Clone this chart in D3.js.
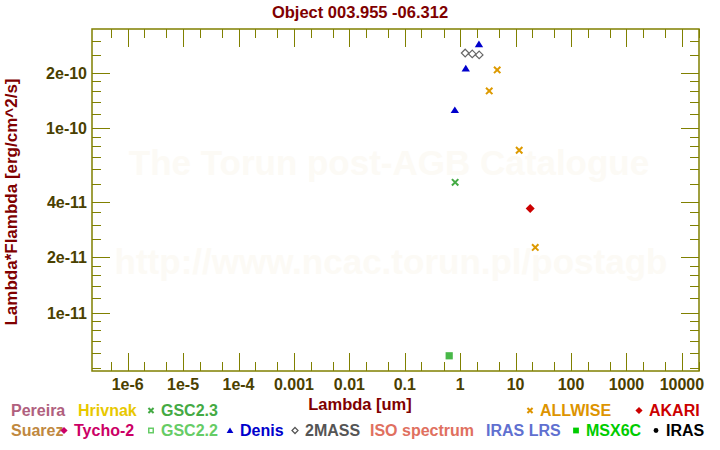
<!DOCTYPE html>
<html><head><meta charset="utf-8">
<script src="https://cdn.jsdelivr.net/npm/d3@7"></script>
<style>html,body{margin:0;padding:0;background:#fff;}svg{display:block;font-family:"Liberation Sans",Arial,sans-serif;font-weight:bold;}</style>
</head><body>
<script>
// ---- data ----
const denisLam = [0.80, 1.26, 2.18];
const denisFlux = [1.26e-10, 2.12e-10, 2.87e-10];
const twomassLam = [1.23, 1.65, 2.20];
const twomassFlux = [2.57e-10, 2.54e-10, 2.51e-10];
const allwiseLam = [3.34, 4.65, 11.6, 22.6];
const allwiseFlux = [1.60e-10, 2.08e-10, 7.62e-11, 2.26e-11];
const gsc23Lam = [0.81];
const gsc23Flux = [5.10e-11];
const gsc22Lam = [0.633];
const gsc22Flux = [5.83e-12];
const akariLam = [18.3];
const akariFlux = [3.68e-11];

const xTickValues = [1e-6, 1e-5, 1e-4, 1e-3, 1e-2, 1e-1, 1, 10, 100, 1000, 10000];
const xTickLabels = ["1e-6", "1e-5", "1e-4", "0.001", "0.01", "0.1", "1", "10", "100", "1000", "10000"];
const yTickValues = [1e-11, 2e-11, 4e-11, 1e-10, 2e-10];
const yTickLabels = ["1e-11", "2e-11", "4e-11", "1e-10", "2e-10"];
const xMinorMantissas = [2, 5];
const yMinorMantissas = [1.2, 1.4, 1.6, 1.8, 2.5, 3, 3.5, 5, 6, 7, 8, 9];

const titleText = "Object 003.955 -06.312";
const xAxisTitle = "Lambda [um]";
const yAxisTitle = "Lambda*Flambda [erg/cm^2/s]";
const watermark1 = "The Torun post-AGB Catalogue";
const watermark2 = "http://www.ncac.torun.pl/postagb";

const legendNames = ["Pereira", "Hrivnak", "GSC2.3", "ALLWISE", "AKARI",
  "Suarez", "Tycho-2", "GSC2.2", "Denis", "2MASS", "ISO spectrum", "IRAS LRS", "MSX6C", "IRAS"];
const legendColors = ["#b0607e", "#e8c800", "#44aa44", "#dd9400", "#cc0000",
  "#c08840", "#cc0066", "#66cc66", "#0000cc", "#555555", "#e07060", "#6070d0", "#00cc00", "#000000"];
const legendMarkers = [null, null, "x", "x", "diamond",
  null, "diamond", "opensquare", "triangle", "opendiamond", null, null, "square", "circle"];

// ---- layout ----
const W = 720, H = 450;
const plot = {left: 92, right: 699, top: 29, bottom: 371};
const legendLayout = [
  {x: 11, row: 0}, {x: 78, row: 0}, {x: 161, row: 0}, {x: 540, row: 0}, {x: 649, row: 0},
  {x: 11, row: 1}, {x: 74, row: 1}, {x: 161, row: 1}, {x: 240, row: 1}, {x: 305, row: 1},
  {x: 370, row: 1}, {x: 486, row: 1}, {x: 586, row: 1}, {x: 666, row: 1}
];
const rowBase = [416, 436];

const svg = d3.select("body").append("svg").attr("width", W).attr("height", H);
svg.append("rect").attr("width", W).attr("height", H).attr("fill", "#fff");

const x = d3.scaleLog().domain([Math.pow(10, -6.6435), Math.pow(10, 4.3087)]).range([plot.left, plot.right]);
const y = d3.scaleLog().domain([4.82e-12, 3.47e-10]).range([plot.bottom, plot.top]);

// watermark
svg.append("text").attr("x", 389).attr("y", 175).attr("text-anchor", "middle")
  .attr("font-size", 35).attr("fill", "#fcfaf5").text(watermark1);
svg.append("text").attr("x", 391).attr("y", 274).attr("text-anchor", "middle")
  .attr("font-size", 35).attr("fill", "#fcfaf5").text(watermark2);

const axisColor = "#808000";
const labelColor = "#4a4000";

// frame
svg.append("rect").attr("x", plot.left).attr("y", plot.top)
  .attr("width", plot.right - plot.left).attr("height", plot.bottom - plot.top)
  .attr("fill", "none").attr("stroke", axisColor).attr("stroke-width", 1.5);

// minor ticks
function minorTicks(scale, mantissas) {
  const [d0, d1] = scale.domain();
  const out = [];
  for (let e = Math.floor(Math.log10(d0)) - 1; e <= Math.ceil(Math.log10(d1)); e++) {
    mantissas.forEach(m => { const v = m * Math.pow(10, e); if (v > d0 && v < d1) out.push(v); });
  }
  return out;
}
const majorLen = 18, minorLen = 9;
const tickG = svg.append("g").attr("stroke", axisColor).attr("stroke-width", 1);
const xMin = minorTicks(x, xMinorMantissas);
const xMaj = xTickValues.filter(v => v >= x.domain()[0] && v <= x.domain()[1]);
[[xMaj, majorLen], [xMin, minorLen]].forEach(([vals, len]) => {
  vals.forEach(v => {
    const px = Math.round(x(v)) + 0.5;
    tickG.append("line").attr("x1", px).attr("x2", px).attr("y1", plot.bottom).attr("y2", plot.bottom - len);
    tickG.append("line").attr("x1", px).attr("x2", px).attr("y1", plot.top).attr("y2", plot.top + len);
  });
});
const yMin = minorTicks(y, yMinorMantissas);
[[yTickValues, majorLen], [yMin, minorLen]].forEach(([vals, len]) => {
  vals.forEach(v => {
    const py = Math.round(y(v)) + 0.5;
    tickG.append("line").attr("y1", py).attr("y2", py).attr("x1", plot.left).attr("x2", plot.left + len);
    tickG.append("line").attr("y1", py).attr("y2", py).attr("x1", plot.right).attr("x2", plot.right - len);
  });
});

// tick labels
svg.append("g").selectAll("text").data(xTickValues).join("text")
  .attr("x", d => x(d)).attr("y", 390).attr("text-anchor", "middle")
  .attr("font-size", 16).attr("fill", labelColor).text((d, i) => xTickLabels[i]);
svg.append("g").selectAll("text").data(yTickValues).join("text")
  .attr("x", 87).attr("y", d => y(d) + 6).attr("text-anchor", "end")
  .attr("font-size", 16).attr("fill", labelColor).text((d, i) => yTickLabels[i]);

// titles
svg.append("text").attr("x", 360).attr("y", 18).attr("text-anchor", "middle")
  .attr("font-size", 16.5).attr("fill", "#800000").text(titleText);
svg.append("text").attr("x", 360).attr("y", 410).attr("text-anchor", "middle")
  .attr("font-size", 16.5).attr("fill", "#800000").text(xAxisTitle);
svg.append("text").attr("transform", "translate(17,202) rotate(-90)").attr("text-anchor", "middle")
  .attr("font-size", 17).attr("fill", "#800000").text(yAxisTitle);

// markers
function drawMarker(g, type, cx, cy, color, s) {
  const k = s || 1;
  if (type === "x") {
    const r = 3.2 * k;
    g.append("path").attr("d", `M${cx - r},${cy - r}L${cx + r},${cy + r}M${cx - r},${cy + r}L${cx + r},${cy - r}`)
      .attr("stroke", color).attr("stroke-width", 2).attr("fill", "none");
  } else if (type === "diamond") {
    const r = 4.5 * k;
    g.append("path").attr("d", `M${cx},${cy - r}L${cx + r},${cy}L${cx},${cy + r}L${cx - r},${cy}Z`).attr("fill", color);
  } else if (type === "opendiamond") {
    const r = 3.8 * k;
    g.append("path").attr("d", `M${cx},${cy - r}L${cx + r},${cy}L${cx},${cy + r}L${cx - r},${cy}Z`)
      .attr("fill", "none").attr("stroke", color).attr("stroke-width", 1.2);
  } else if (type === "triangle") {
    const w = 4.2 * k;
    g.append("path").attr("d", `M${cx},${cy - 3.6 * k}L${cx + w},${cy + 3 * k}L${cx - w},${cy + 3 * k}Z`).attr("fill", color);
  } else if (type === "square") {
    const r = 3.6 * k;
    g.append("rect").attr("x", cx - r).attr("y", cy - r).attr("width", 2 * r).attr("height", 2 * r).attr("fill", color);
  } else if (type === "opensquare") {
    const r = 2.8 * k;
    g.append("rect").attr("x", cx - r).attr("y", cy - r).attr("width", 2 * r).attr("height", 2 * r)
      .attr("fill", "none").attr("stroke", color).attr("stroke-width", 1.5);
  } else if (type === "circle") {
    g.append("circle").attr("cx", cx).attr("cy", cy).attr("r", 3 * k).attr("fill", color);
  }
}

const pts = svg.append("g");
const series = [
  {lam: gsc22Lam, flux: gsc22Flux, type: "square", color: "#48b848"},
  {lam: gsc23Lam, flux: gsc23Flux, type: "x", color: "#44aa44"},
  {lam: allwiseLam, flux: allwiseFlux, type: "x", color: "#dd9a00"},
  {lam: akariLam, flux: akariFlux, type: "diamond", color: "#cc0000"},
  {lam: twomassLam, flux: twomassFlux, type: "opendiamond", color: "#666666"},
  {lam: denisLam, flux: denisFlux, type: "triangle", color: "#0000cc"}
];
series.forEach(s => s.lam.forEach((l, i) => drawMarker(pts, s.type, x(l), y(s.flux[i]), s.color, 1)));

// legend
const lg = svg.append("g");
legendNames.forEach((name, i) => {
  const L = legendLayout[i];
  const base = rowBase[L.row];
  if (legendMarkers[i]) drawMarker(lg, legendMarkers[i], L.x - 10, base - 5.5, legendColors[i], 0.8);
  lg.append("text").attr("x", L.x).attr("y", base).attr("font-size", 16)
    .attr("fill", legendColors[i]).text(name);
});
</script>
</body></html>
